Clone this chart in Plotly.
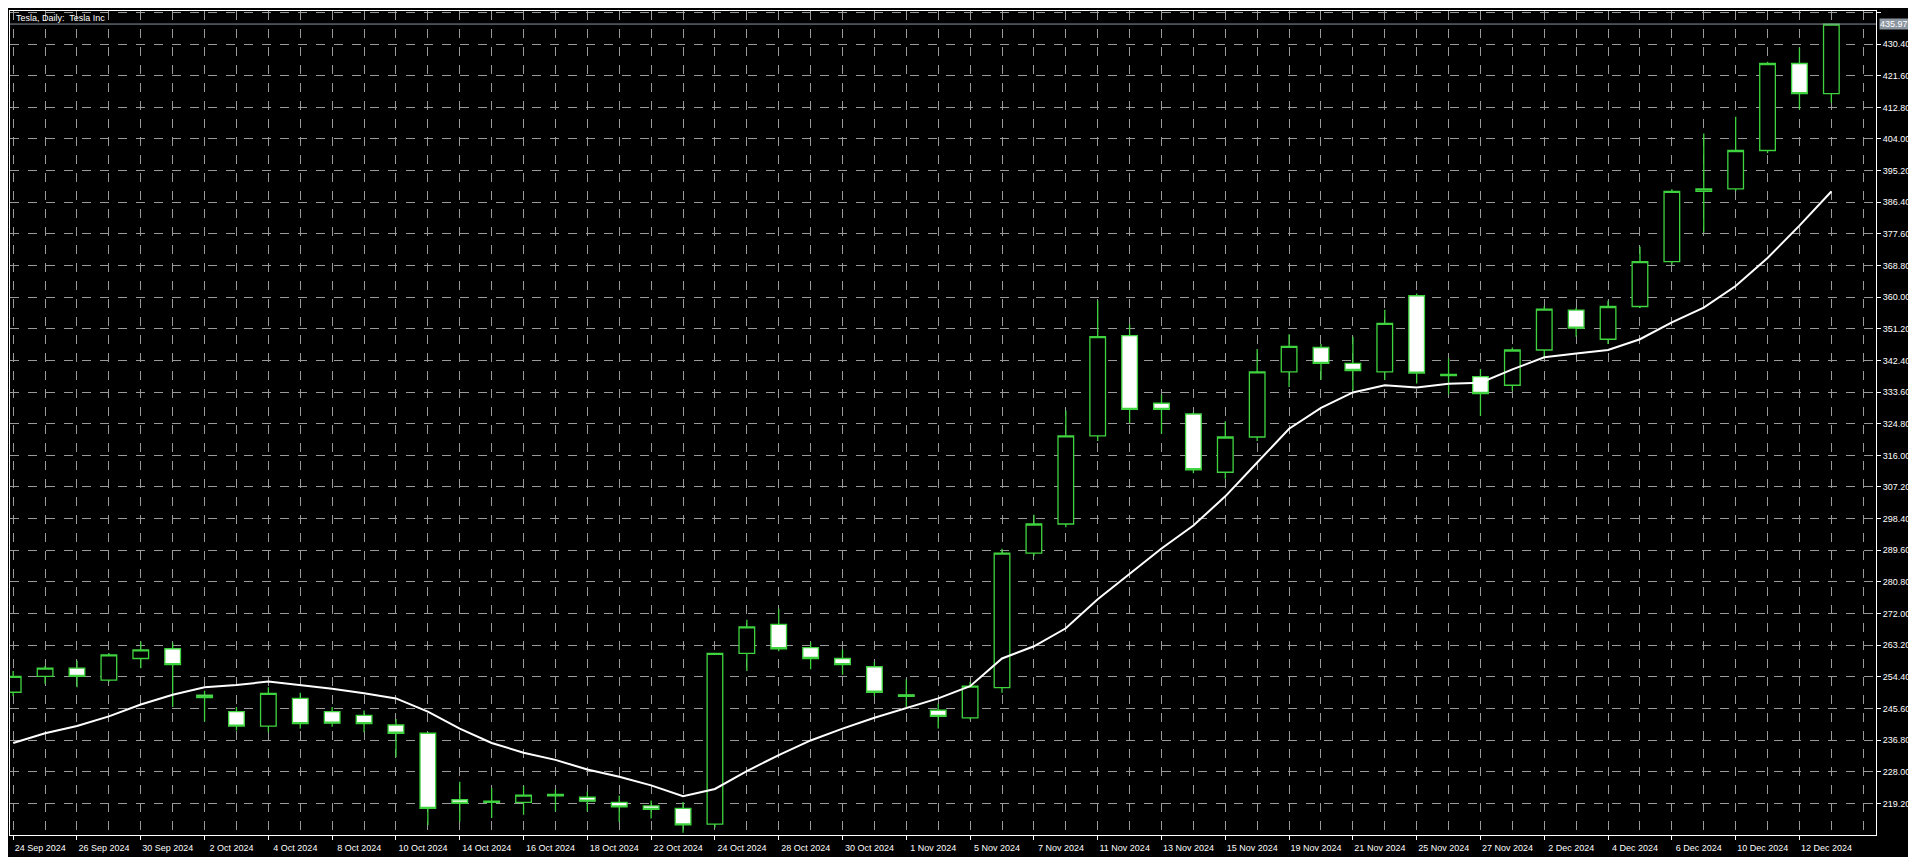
import plotly.graph_objects as go

dates = ["24 Sep 2024", "25 Sep 2024", "26 Sep 2024", "27 Sep 2024", "30 Sep 2024",
         "1 Oct 2024", "2 Oct 2024", "3 Oct 2024", "4 Oct 2024", "7 Oct 2024",
         "8 Oct 2024", "9 Oct 2024", "10 Oct 2024", "11 Oct 2024", "14 Oct 2024",
         "15 Oct 2024", "16 Oct 2024", "17 Oct 2024", "18 Oct 2024", "21 Oct 2024",
         "22 Oct 2024", "23 Oct 2024", "24 Oct 2024", "25 Oct 2024", "28 Oct 2024",
         "29 Oct 2024", "30 Oct 2024", "31 Oct 2024", "1 Nov 2024", "4 Nov 2024",
         "5 Nov 2024", "6 Nov 2024", "7 Nov 2024", "8 Nov 2024", "11 Nov 2024",
         "12 Nov 2024", "13 Nov 2024", "14 Nov 2024", "15 Nov 2024", "18 Nov 2024",
         "19 Nov 2024", "20 Nov 2024", "21 Nov 2024", "22 Nov 2024", "25 Nov 2024",
         "26 Nov 2024", "27 Nov 2024", "29 Nov 2024", "2 Dec 2024", "3 Dec 2024",
         "4 Dec 2024", "5 Dec 2024", "6 Dec 2024", "9 Dec 2024", "10 Dec 2024",
         "11 Dec 2024", "12 Dec 2024", "13 Dec 2024"]

opens = [250.1, 254.5, 256.8, 253.5, 259.5, 262.2, 249.3, 244.7, 240.7, 248.4,
         244.7, 243.7, 241.0, 238.7, 220.2, 219.5, 219.5, 221.7, 220.9, 219.5,
         218.5, 217.8, 213.4, 260.9, 269.0, 262.5, 259.5, 257.2, 249.4, 245.1,
         243.0, 251.4, 288.8, 296.9, 321.4, 349.3, 330.5, 327.5, 311.3, 321.1,
         339.2, 346.0, 341.6, 339.2, 360.4, 338.5, 337.9, 335.5, 345.3, 356.4,
         348.3, 357.4, 369.9, 389.4, 390.1, 400.8, 425.0, 416.6]
highs = [256.0, 257.5, 258.9, 261.0, 264.2, 263.9, 250.5, 246.0, 251.5, 250.0,
         246.0, 245.0, 242.7, 239.0, 225.2, 223.5, 224.0, 223.0, 222.5, 221.4,
         220.0, 219.6, 261.0, 270.3, 273.3, 264.0, 262.0, 258.5, 253.7, 247.0,
         253.0, 290.0, 299.5, 328.5, 359.0, 352.4, 332.9, 328.0, 325.5, 345.6,
         349.7, 347.0, 349.0, 356.5, 361.0, 343.0, 340.0, 346.0, 357.5, 357.0,
         359.0, 374.0, 390.0, 405.5, 410.2, 425.5, 429.4, 436.0]
lows = [249.0, 252.5, 251.5, 253.0, 256.8, 246.0, 242.0, 239.5, 239.0, 240.0,
        240.5, 239.0, 232.0, 213.1, 214.1, 215.1, 216.0, 217.0, 217.0, 214.0,
        215.0, 211.0, 212.5, 256.0, 261.5, 256.5, 255.0, 249.0, 246.0, 240.0,
        242.5, 250.0, 288.0, 296.0, 320.0, 325.0, 322.0, 311.0, 309.5, 320.0,
        335.0, 337.0, 334.0, 337.0, 336.0, 333.0, 327.0, 334.0, 343.0, 349.0,
        347.0, 357.0, 369.0, 378.0, 389.5, 400.0, 412.2, 414.0]
closes = [254.5, 256.8, 254.5, 260.5, 261.9, 257.8, 248.6, 240.7, 249.8, 241.4,
          241.5, 241.4, 238.7, 217.8, 219.2, 219.8, 221.5, 221.3, 219.8, 218.2,
          217.5, 213.2, 260.9, 268.3, 262.2, 259.5, 257.8, 250.1, 249.0, 243.4,
          251.8, 288.8, 296.9, 321.4, 349.0, 328.8, 328.8, 312.0, 321.1, 339.2,
          346.3, 341.6, 339.6, 352.7, 338.9, 338.2, 333.2, 345.3, 356.7, 351.4,
          357.4, 369.9, 389.4, 390.1, 400.8, 425.0, 416.6, 435.97]
ma = [236.0, 238.7, 240.7, 243.4, 246.7, 249.4, 251.5, 252.1, 253.1, 252.1,
      251.1, 249.8, 248.4, 244.7, 240.0, 236.0, 233.3, 231.3, 228.6, 226.6,
      224.2, 221.2, 223.2, 228.2, 232.6, 236.7, 240.0, 243.0, 245.7, 248.4,
      251.8, 259.5, 262.9, 267.9, 276.0, 283.1, 290.1, 296.5, 304.6, 314.0,
      323.4, 329.2, 333.5, 335.5, 334.9, 335.9, 336.2, 339.9, 343.3, 344.3,
      345.3, 348.3, 353.0, 357.1, 363.1, 370.9, 379.9, 389.4]

y_ticks = [219.2, 228.0, 236.8, 245.6, 254.4, 263.2, 272.0, 280.8, 289.6, 298.4,
           307.2, 316.0, 324.8, 333.6, 342.4, 351.2, 360.0, 368.8, 377.6, 386.4,
           395.2, 404.0, 412.8, 421.6, 430.4, 439.2]
last_price = 435.97

bars = list(range(len(dates)))
green = "#3fd43f"
font = "Liberation Sans"

fig = go.Figure()
fig.add_trace(go.Candlestick(
    x=bars, open=opens, high=highs, low=lows, close=closes,
    increasing=dict(line=dict(color=green, width=1.3), fillcolor="black"),
    decreasing=dict(line=dict(color=green, width=1.3), fillcolor="white"),
    whiskerwidth=0, showlegend=False,
))
fig.add_trace(go.Scatter(x=bars, y=ma, mode="lines",
                         line=dict(color="white", width=2), showlegend=False))

fig.add_hline(y=last_price, line_color="#8c96a0", line_width=1)
fig.add_annotation(xref="paper", x=1.0, xanchor="left", y=last_price, yanchor="middle",
                   text=f"{last_price:.2f}", showarrow=False, bgcolor="#8c96a0",
                   font=dict(color="white", size=9, family=font), borderpad=0, xshift=3)
fig.add_annotation(xref="paper", yref="paper", x=0.002, y=1.0, xanchor="left", yanchor="top",
                   text="Tesla, Daily:  Tesla Inc", showarrow=False,
                   font=dict(color="white", size=9, family=font))

fig.update_layout(
    width=1916, height=857,
    paper_bgcolor="black", plot_bgcolor="black",
    margin=dict(l=2, r=48, t=3, b=30),
    font=dict(family=font, size=9, color="white"),
    xaxis=dict(
        range=[-0.1, 58.4], rangeslider_visible=False,
        tickvals=bars[::2], ticktext=dates[::2], tickangle=0,
        ticks="outside", ticklen=4, tickcolor="white",
        ticklabelshift=27, ticklabelstandoff=0,
        showgrid=True, gridcolor="#9a9a9a", griddash="dash", gridwidth=1,
        minor=dict(dtick=1, tick0=0, showgrid=True, gridcolor="#9a9a9a", griddash="dash"),
        showline=True, linecolor="white", linewidth=1, mirror=True, zeroline=False,
    ),
    yaxis=dict(
        side="right", range=[210.4, 439.6],
        tickvals=y_ticks, ticktext=[f"{v:.2f}" for v in y_ticks],
        ticks="outside", ticklen=4, tickcolor="white",
        showgrid=True, gridcolor="#9a9a9a", griddash="dash", gridwidth=1,
        showline=True, linecolor="white", linewidth=1, mirror=True, zeroline=False,
    ),
)

fig.write_html("out.html")
